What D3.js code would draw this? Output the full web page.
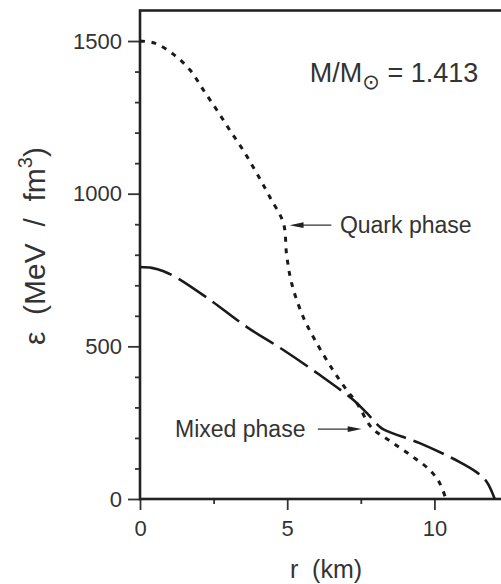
<!DOCTYPE html>
<html lang="en">
<head>
  <meta charset="UTF-8">
  <title>Energy density profile</title>
  <script src="https://cdn.jsdelivr.net/npm/d3@7"></script>
  <style>
    html, body { margin: 0; padding: 0; background: #fff; }
    svg text { font-family: "Liberation Sans", Arial, sans-serif; fill: #333; }
    .axis path { display: none; }
    .axis line { stroke: #333; stroke-width: 1.8; }
  </style>
</head>
<body>
  <svg id="chart"></svg>
  <script>
    // quark phase profile (dotted)
    const quarkR = [0, 0.5, 1.13, 1.7, 2.15, 2.61, 3.05, 3.5, 3.96, 4.41, 4.87, 4.98, 5.15, 5.54, 6.0, 6.55, 7.02, 7.36, 7.8, 8.0, 8.6, 9.27, 9.84, 10.18, 10.39];
    const quarkE = [1500, 1493, 1457, 1405, 1340, 1274, 1208, 1143, 1068, 989, 904, 800, 707, 597, 511, 423, 357, 315, 242, 222, 183, 138, 95, 52, 0];
    // mixed phase profile (long dashes)
    const mixedR = [0, 0.4, 0.8, 1.3, 2.38, 3.62, 4.87, 6.11, 7.24, 7.7, 8.2, 8.48, 9.5, 10.86, 11.43, 11.78, 12.05];
    const mixedE = [760, 757, 746, 722, 652, 564, 488, 406, 325, 282, 232, 219, 183, 121, 88, 56, 0];

    const xMajor = [0, 5, 10];
    const xMinor = [2.5, 7.5, 12.5];
    const yMajor = [0, 500, 1000, 1500];
    const yMinor = d3.range(100, 1600, 100).filter(v => v % 500 !== 0);

    const width = 501, height = 584;
    const plotL = 140, plotR = 508, plotT = 10.5, plotB = 499;

    const svg = d3.select("#chart").attr("width", width).attr("height", height);

    const x = d3.scaleLinear().domain([0, 12.5]).range([plotL, plotR]);
    const y = d3.scaleLinear().domain([0, 1600]).range([plotB, plotT]);

    // ticks
    svg.append("g").attr("class", "axis")
      .attr("transform", `translate(0,${plotB})`)
      .call(d3.axisBottom(x).tickValues(xMajor).tickSize(11).tickPadding(10).tickFormat(d3.format("d")))
      .call(g => g.selectAll("text").attr("font-size", 22).attr("fill", "#333").attr("font-family", null));
    svg.append("g").attr("class", "axis")
      .attr("transform", `translate(0,${plotB})`)
      .call(d3.axisBottom(x).tickValues(xMinor).tickSize(5).tickFormat(""));
    svg.append("g").attr("class", "axis")
      .attr("transform", `translate(${plotL},0)`)
      .call(d3.axisLeft(y).tickValues(yMajor).tickSize(12).tickPadding(6).tickFormat(d3.format("d")))
      .call(g => g.selectAll("text").attr("font-size", 22).attr("fill", "#333").attr("font-family", null));
    svg.append("g").attr("class", "axis")
      .attr("transform", `translate(${plotL},0)`)
      .call(d3.axisLeft(y).tickValues(yMinor).tickSize(5).tickFormat(""));

    // frame
    svg.append("rect")
      .attr("x", plotL).attr("y", plotT)
      .attr("width", plotR - plotL).attr("height", plotB - plotT)
      .attr("fill", "none").attr("stroke", "#222").attr("stroke-width", 2.6);

    const line = d3.line().x(d => x(d[0])).y(d => y(d[1])).curve(d3.curveCatmullRom.alpha(0.5));

    svg.append("path")
      .datum(d3.zip(mixedR, mixedE))
      .attr("d", line)
      .attr("fill", "none").attr("stroke", "#1a1a1a").attr("stroke-width", 2.6)
      .attr("stroke-dasharray", "33,8");

    svg.append("path")
      .datum(d3.zip(quarkR, quarkE))
      .attr("d", line)
      .attr("fill", "none").attr("stroke", "#1a1a1a").attr("stroke-width", 3)
      .attr("stroke-dasharray", "5,6.5");

    // annotations
    function arrow(x0, x1, yv) {
      const g = svg.append("g");
      const dir = Math.sign(x1 - x0);
      g.append("line")
        .attr("x1", x(x0)).attr("y1", y(yv)).attr("x2", x(x1) - dir * 8).attr("y2", y(yv))
        .attr("stroke", "#333").attr("stroke-width", 1.3);
      const tx = x(x1), ty = y(yv);
      g.append("path")
        .attr("d", `M${tx},${ty}L${tx - dir * 14},${ty - 2.8}L${tx - dir * 14},${ty + 2.8}Z`)
        .attr("fill", "#222");
    }
    arrow(6.5, 5.08, 897);
    arrow(6.04, 7.53, 229);

    svg.append("text").attr("x", x(6.79)).attr("y", y(871))
      .attr("font-size", 23).text("Quark phase");
    svg.append("text").attr("x", x(1.19)).attr("y", y(203))
      .attr("font-size", 23).text("Mixed phase");

    const mass = svg.append("text").attr("x", x(5.77)).attr("y", y(1366)).attr("font-size", 27);
    mass.append("tspan").text("M/M");
    mass.append("tspan").attr("font-size", 21).attr("dy", 7).attr("font-family", "DejaVu Sans").text("\u2299");
    mass.append("tspan").attr("dy", -7).text(" = 1.413");

    // axis titles
    svg.append("text")
      .attr("x", (plotL + plotR) / 2 + 2).attr("y", 578)
      .attr("text-anchor", "middle").attr("font-size", 25)
      .style("white-space", "pre")
      .text("r  (km)");

    const yt = svg.append("text")
      .attr("transform", "translate(45,246) rotate(-90)")
      .attr("text-anchor", "middle").attr("font-size", 30)
      .style("white-space", "pre");
    yt.append("tspan").text("\u03b5  (MeV  /  fm");
    yt.append("tspan").attr("font-size", 20).attr("dy", -13).text("3");
    yt.append("tspan").attr("dy", 13).text(")");
  </script>
</body>
</html>
